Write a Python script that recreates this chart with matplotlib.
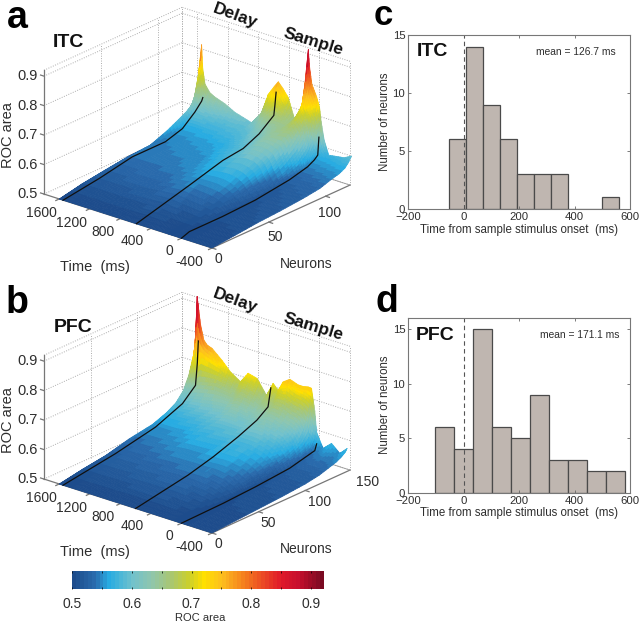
import numpy as np
import matplotlib
matplotlib.use('Agg')
import matplotlib.pyplot as plt
from matplotlib.colors import LinearSegmentedColormap, Normalize
from mpl_toolkits.mplot3d import proj3d

plt.rcParams['font.family'] = ['Liberation Sans', 'DejaVu Sans']

# ---------- panel a (ITC) ----------
itc_neurons = [0, 20, 40, 60, 80, 95, 105, 112, 117, 120, 123]
itc_times = [-400, -300, -200, -100, -40, 0, 20, 60, 120, 150, 168, 190, 250, 340, 430, 500, 561, 620,
             692, 780, 910, 1130, 1260, 1400, 1456, 1520, 1550, 1565, 1585, 1600]
itc_roc = [
    [.500, .507, .515, .520, .527, .535, .548, .555, .565, .578, .596],
    [.500, .506, .512, .518, .525, .533, .545, .554, .564, .572, .582],
    [.500, .505, .510, .515, .522, .532, .542, .552, .560, .566, .578],
    [.500, .505, .509, .513, .520, .530, .540, .550, .558, .564, .574],
    [.500, .505, .509, .512, .519, .530, .540, .549, .558, .572, .620],
    [.500, .508, .510, .513, .520, .531, .540, .548, .560, .590, .680],
    [.500, .508, .512, .516, .524, .540, .555, .575, .610, .655, .725],
    [.500, .508, .515, .524, .538, .565, .590, .625, .670, .710, .760],
    [.500, .510, .522, .535, .560, .600, .640, .670, .700, .740, .795],
    [.500, .510, .525, .545, .575, .615, .650, .680, .710, .770, .850],
    [.500, .510, .525, .548, .582, .620, .655, .685, .720, .800, .910],
    [.500, .510, .528, .552, .590, .622, .655, .680, .700, .730, .767],
    [.500, .512, .532, .560, .598, .628, .650, .665, .680, .695, .715],
    [.500, .513, .535, .565, .600, .630, .645, .650, .652, .653, .653],
    [.500, .514, .537, .565, .595, .620, .635, .645, .665, .690, .725],
    [.500, .516, .540, .563, .588, .605, .622, .640, .670, .712, .750],
    [.500, .518, .542, .562, .583, .595, .612, .632, .668, .722, .768],
    [.500, .518, .542, .560, .578, .590, .608, .628, .655, .700, .745],
    [.500, .518, .540, .556, .570, .582, .598, .615, .640, .670, .715],
    [.500, .516, .538, .550, .562, .575, .585, .594, .608, .625, .645],
    [.500, .516, .532, .545, .552, .562, .575, .584, .590, .595, .600],
    [.500, .516, .530, .542, .548, .556, .568, .580, .590, .602, .617],
    [.500, .516, .530, .542, .547, .554, .566, .582, .596, .612, .635],
    [.500, .516, .528, .541, .545, .552, .564, .586, .602, .622, .648],
    [.500, .516, .528, .541, .544, .551, .564, .586, .604, .628, .656],
    [.500, .516, .528, .541, .543, .550, .562, .586, .610, .640, .680],
    [.500, .516, .528, .540, .542, .548, .560, .588, .625, .660, .730],
    [.500, .516, .528, .540, .542, .548, .562, .594, .650, .710, .810],
    [.500, .516, .527, .538, .542, .552, .575, .598, .625, .650, .680],
    [.500, .516, .527, .537, .542, .565, .585, .600, .615, .625, .630],
]
itc_line_times = [0, 590, 1550]
itc_line_n = [[0, 7, 36, 65, 95, 111, 117, 120, 120.5, 121],
              [0, 47, 76, 94, 108, 121, 122, 123],
              [0, 32, 61, 90, 105, 116, 122, 123]]
itc_line_z = [[.50, .510, .510, .515, .531, .547, .560, .571, .600, .630],
              [.50, .549, .581, .590, .615, .655, .690, .730],
              [.50, .518, .540, .540, .558, .595, .622, .632]]

# ---------- panel b (PFC) ----------
pfc_neurons = [0, 25, 50, 75, 100, 115, 125, 133, 139, 143, 145]
pfc_times = [-400, -304, -195, -86, -42, 0, 24, 67, 111, 176, 242, 351, 438, 504, 570, 657, 779, 897,
             997, 1128, 1238, 1369, 1434, 1478, 1521, 1550, 1565, 1585, 1600]
pfc_roc = [
    [.500, .505, .510, .515, .522, .530, .540, .548, .558, .568, .578],
    [.500, .505, .509, .514, .520, .528, .535, .541, .546, .550, .553],
    [.500, .504, .508, .513, .520, .528, .536, .545, .556, .568, .578],
    [.500, .504, .507, .512, .518, .526, .532, .538, .544, .549, .552],
    [.500, .504, .506, .510, .516, .524, .530, .537, .544, .556, .575],
    [.500, .503, .505, .508, .512, .520, .527, .533, .538, .548, .600],
    [.500, .505, .510, .515, .525, .538, .548, .558, .575, .610, .670],
    [.500, .508, .518, .530, .545, .560, .575, .600, .640, .695, .743],
    [.500, .510, .522, .538, .555, .572, .590, .620, .660, .705, .744],
    [.500, .512, .528, .545, .565, .585, .605, .630, .668, .710, .740],
    [.500, .514, .532, .550, .570, .590, .610, .635, .670, .712, .740],
    [.500, .516, .535, .555, .578, .600, .620, .648, .685, .725, .750],
    [.500, .518, .537, .555, .578, .602, .625, .650, .685, .715, .734],
    [.500, .518, .537, .553, .578, .600, .620, .640, .665, .685, .700],
    [.500, .518, .537, .553, .580, .602, .620, .640, .668, .695, .718],
    [.500, .518, .537, .553, .578, .595, .612, .630, .650, .662, .670],
    [.500, .518, .535, .552, .575, .595, .618, .642, .670, .700, .717],
    [.500, .518, .533, .552, .572, .595, .620, .648, .680, .710, .725],
    [.500, .516, .532, .550, .570, .590, .610, .635, .655, .675, .688],
    [.500, .516, .530, .546, .562, .582, .605, .635, .665, .695, .710],
    [.500, .515, .528, .544, .558, .578, .600, .630, .672, .715, .740],
    [.500, .514, .527, .540, .555, .575, .595, .622, .665, .725, .770],
    [.500, .514, .527, .540, .555, .573, .593, .618, .660, .730, .776],
    [.500, .514, .526, .539, .555, .572, .590, .615, .655, .735, .790],
    [.500, .514, .526, .538, .555, .572, .588, .612, .640, .720, .840],
    [.500, .514, .525, .538, .555, .574, .588, .610, .635, .670, .900],
    [.500, .514, .525, .538, .554, .574, .588, .612, .640, .700, .930],
    [.500, .514, .525, .538, .552, .574, .590, .620, .660, .715, .800],
    [.500, .514, .525, .545, .558, .576, .595, .625, .670, .720, .740],
]
pfc_line_times = [0, 600, 1550]
pfc_line_n = [[0, 45, 80, 116, 143, 145],
              [0, 56, 83, 110, 130, 142, 145],
              [0, 56, 99, 128, 142, 144, 145]]
pfc_line_z = [[.50, .503, .509, .519, .540, .560],
              [.50, .532, .555, .585, .612, .640, .700],
              [.50, .526, .554, .592, .634, .708, .780]]

# ---------- histograms ----------
itc_counts = [6, 14, 9, 6, 3, 3, 3, 0, 0, 1]
itc_left_edge, itc_width = -52, 61.4
pfc_counts = [6, 4, 15, 6, 5, 9, 3, 3, 2, 2]
pfc_left_edge, pfc_width = -101, 68.3

z_ticks = [.5, .6, .7, .8, .9]
time_ticks = [-400, 0, 400, 800, 1200, 1600]

roc_stops = [(.50, '#1d4c8c'), (.535, '#2a6cae'), (.56, '#28ace2'), (.60, '#72c2cc'), (.63, '#8fc6ae'),
             (.665, '#a9c772'), (.695, '#cbd02c'), (.72, '#ffe000'), (.75, '#fdbf1e'), (.78, '#f78d1e'),
             (.81, '#ef5a22'), (.85, '#e01a2a'), (.88, '#c8102e'), (.92, '#7a0a22')]
vmin, vmax = .5, .92
cmap = LinearSegmentedColormap.from_list('roc', [((v - vmin) / (vmax - vmin), c) for v, c in roc_stops], N=64)
norm = Normalize(vmin, vmax)

W, H = 640, 623
fig = plt.figure(figsize=(W / 100, H / 100), dpi=100)
TXT = '#2e2e2e'


def px(x, y, s, size, **kw):
    kw.setdefault('ha', 'center')
    kw.setdefault('va', 'center')
    kw.setdefault('color', TXT)
    return fig.text(x / W, 1 - y / H, s, fontsize=size, **kw)


def shade_mesh(neurons, times, roc, k=4):
    """Interpolated shading (matplotlib 3-D has no Gouraud): split each table cell into k x k flat facets."""
    neurons, times, roc = np.asarray(neurons, float), np.asarray(times, float), np.asarray(roc, float)
    ci = np.linspace(0, len(neurons) - 1, (len(neurons) - 1) * k + 1)
    ri = np.linspace(0, len(times) - 1, (len(times) - 1) * k + 1)
    nf = np.interp(ci, np.arange(len(neurons)), neurons)
    tf = np.interp(ri, np.arange(len(times)), times)
    byrow = np.array([np.interp(ci, np.arange(len(neurons)), row) for row in roc])
    Z = np.array([np.interp(ri, np.arange(len(times)), col) for col in byrow.T]).T
    X, Y = np.meshgrid(nf, tf)
    return X, Y, Z


def panel3d(times, neurons, roc, lt, ln, lz, nlim, dy, nticks):
    ax = fig.add_axes([0, 0, 1, 1], projection='3d', proj_type='ortho')
    ax.set_axis_off()
    ax.patch.set_alpha(0)
    ax.computed_zorder = False
    ax.view_init(elev=22.5, azim=-140)
    ax.set_box_aspect((214.7, 219.3, 134))
    ax.set_xlim(0, nlim)
    ax.set_ylim(-400, 1800)
    ax.set_zlim(.5, .92)

    # back walls, dotted
    g = dict(color='#adadad', lw=.7, ls=(0, (1, 1.5)), zorder=0)
    for z in z_ticks:
        ax.plot([0, nlim], [1800, 1800], [z, z], **g)
        ax.plot([nlim, nlim], [-400, 1800], [z, z], **g)
    for t in time_ticks + [1800]:
        ax.plot([nlim, nlim], [t, t], [.5, .92], **g)
    for n in nticks + [nlim]:
        ax.plot([n, n], [1800, 1800], [.5, .92], **g)
    ax.plot([0, nlim], [1800, 1800], [.92, .92], **g)
    ax.plot([nlim, nlim], [-400, 1800], [.92, .92], **g)

    # solid axes
    a = dict(color='#777777', lw=.9, zorder=0.5)
    ax.plot([0, nlim], [-400, -400], [.5, .5], **a)
    ax.plot([0, 0], [-400, 1800], [.5, .5], **a)
    ax.plot([0, 0], [1800, 1800], [.5, .92], **a)
    ax.plot([nlim, nlim], [-400, 1800], [.5, .5], color='#9a9a9a', lw=.6, zorder=0.5)
    for t in time_ticks:
        ax.plot([0, -nlim * .025], [t, t], [.5, .5], **a)
    for n in nticks:
        ax.plot([n, n], [-400, -450], [.5, .5], **a)
    for z in z_ticks:
        ax.plot([0, 0], [1800, 1845], [z, z], **a)

    X, Y, Z = shade_mesh(neurons, times, roc)
    ax.plot_surface(X, Y, Z, facecolors=cmap(norm(Z)), rstride=1, cstride=1, shade=False,
                    linewidth=.5, antialiased=True, zorder=1)
    for t, n, z in zip(lt, ln, lz):
        ax.plot(n, [t] * len(n), z, color='#101010', lw=.9, zorder=2)

    # fit the projected box to the picture
    def pts():
        ax.apply_aspect()
        M = ax.get_proj()
        out = []
        for p in [(nlim, -400, .5), (0, 1800, .5), (0, -400, .5)]:
            u, v, _ = proj3d.proj_transform(*p, M)
            out.append(ax.transData.transform((u, v)))
        return out
    fig.canvas.draw()
    S = 640.0
    cx, cy = 320.0, H - 200.0 - dy
    for _ in range(4):
        ax.set_position([(cx - S / 2) / W, (cy - S / 2) / H, S / W, S / H])
        ax.apply_aspect()
        r, l, o = pts()
        S *= 306.0 / (r[0] - l[0])
        ax.set_position([(cx - S / 2) / W, (cy - S / 2) / H, S / W, S / H])
        ax.apply_aspect()
        r, l, o = pts()
        cx += 212 - o[0]
        cy += (H - 248 - dy) - o[1]
    ax.set_position([(cx - S / 2) / W, (cy - S / 2) / H, S / W, S / H])
    return ax


panel3d(itc_times, itc_neurons, itc_roc, itc_line_times, itc_line_n, itc_line_z, 121.5, 0, [0, 50, 100])
panel3d(pfc_times, pfc_neurons, pfc_roc, pfc_line_times, pfc_line_n, pfc_line_z, 148, 285, [0, 50, 100])

# 3-D panel texts
for dy, name, nxy, nl in [(0, 'ITC', (205, 128), [('0', 655, 778), ('50', 825, 710), ('100', 990, 640)]),
                          (285, 'PFC', (220, 128), [('0', 655, 778), ('50', 805, 715), ('100', 960, 652), ('150', 1104, 590)])]:
    px(nxy[0] / 3, nxy[1] / 3 + dy, name, 14, fontweight='bold', color='#111111')
    px(705 / 3, 47 / 3 + dy, 'Delay', 12.5, fontweight='bold', rotation=-20, color='#111111')
    px(940 / 3, 125 / 3 + dy, 'Sample', 12.5, fontweight='bold', rotation=-17, color='#111111')
    px(285 / 3, 800 / 3 + dy, 'Time  (ms)', 10.5)
    px(920 / 3, 793 / 3 + dy, 'Neurons', 10)
    px(25 / 3, 405 / 3 + dy, 'ROC area', 10.5, rotation=90)
    for z, y in zip(['0.9', '0.8', '0.7', '0.6', '0.5'], [228, 318, 405, 495, 583]):
        px(113 / 3, y / 3 + dy, z, 10.5, ha='right')
    for s, x, y in [('1600', 125, 640), ('1200', 215, 668), ('800', 310, 697), ('400', 398, 723),
                    ('0', 508, 752), ('-400', 568, 785)]:
        px(x / 3, y / 3 + dy, s, 10)
    for s, x, y in nl:
        px(x / 3, y / 3 + dy, s, 10)

for s, x, y, fs in [('a', 17, 28, 27), ('b', 17, 313, 27), ('c', 383, 25, 25), ('d', 387, 312, 27)]:
    px(x, y, s, fs, fontweight='bold', color='black', va='baseline')


# histograms
def hist(counts, left, width, ylim, yticks, top, bottom, name, nxy, mean, mxy, xlab_y, ylab_y):
    ax = fig.add_axes([408 / W, 1 - bottom / H, 222 / W, (bottom - top) / H])
    edges = left + width * np.arange(len(counts))
    ax.bar(edges, counts, width=width, align='edge', color='#bfb6b0', edgecolor='#4a4a4a', lw=.9)
    ax.axvline(0, color='#555555', lw=.8, ls=(0, (4, 3)))
    ax.set_xlim(-200, 600)
    ax.set_ylim(0, ylim)
    ax.set_xticks([-200, 0, 200, 400, 600])
    ax.set_yticks(yticks)
    ax.tick_params(direction='in', top=True, right=True, length=2.5, width=.6, labelsize=8.2,
                   color='#666666', labelcolor=TXT, pad=2)
    for s in ax.spines.values():
        s.set_color('#777777')
        s.set_linewidth(.8)
    px(360 + nxy[0] / 3, nxy[1], name, 14, fontweight='bold', color='#111111')
    px(360 + mxy[0] / 3, mxy[1], mean, 7.4)
    px(519, xlab_y, 'Time from sample stimulus onset  (ms)', 8.3)
    px(384.5, ylab_y, 'Number of neurons', 8.3, rotation=90)


hist(itc_counts, itc_left_edge, itc_width, 15, [0, 5, 10, 15], 35, 209, 'ITC', (217, 52),
     'mean = 126.7 ms', (648, 52), 230, 122)
hist(pfc_counts, pfc_left_edge, pfc_width, 16, [0, 5, 10, 15], 318, 493, 'PFC', (225, 335),
     'mean = 171.1 ms', (660, 335), 513, 405)

# colour bar
cax = fig.add_axes([72 / W, 1 - 589 / H, 251 / W, 18 / H])
cax.imshow(np.linspace(vmin, vmax, 64)[None, :], aspect='auto', cmap=cmap, norm=norm, extent=[vmin, vmax, 0, 1])
cax.set_yticks([])
cax.set_xticks([.5, .55, .6, .65, .7, .75, .8, .85, .9])
cax.set_xticklabels(['0.5', '', '0.6', '', '0.7', '', '0.8', '', '0.9'])
cax.tick_params(axis='x', direction='in', top=True, length=1.5, width=.5, labelsize=10, labelcolor=TXT, pad=6)
for s in cax.spines.values():
    s.set_visible(False)
px(200, 618, 'ROC area', 8)

fig.savefig('out.png', dpi=100)
